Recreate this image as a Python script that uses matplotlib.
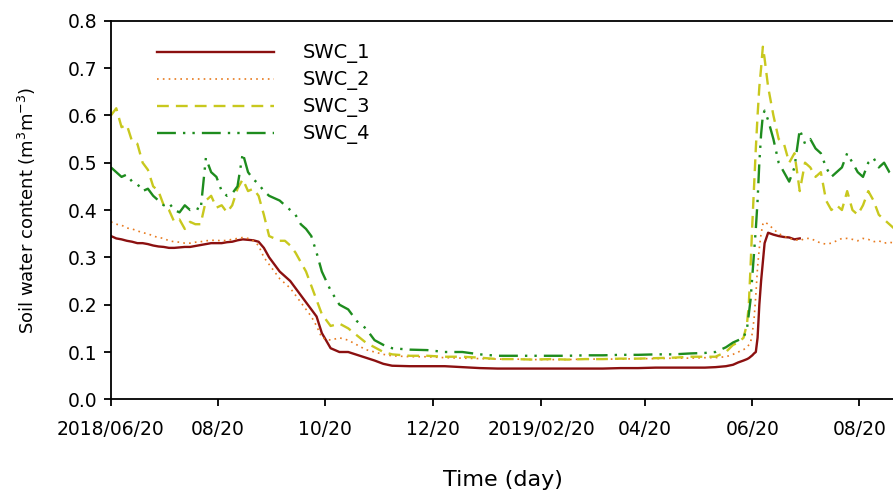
import numpy as np
import matplotlib
matplotlib.use("Agg")
import matplotlib.pyplot as plt
import matplotlib.dates as mdates

plt.rcParams['font.family'] = ['DejaVu Sans']

# days since 2018-06-20
days = [0, 3, 6, 9, 12, 15, 18, 21, 24, 27, 30, 33, 36, 39, 42, 45, 48, 51, 54, 57,
        60, 63, 66, 69, 72, 75, 78, 81, 84, 87, 90, 93, 96, 99, 102, 105, 108, 111, 114, 117, 120,
        125, 130, 135, 140, 145, 150, 155, 160, 170,
        180, 190, 200, 210, 220, 230, 240, 250, 260, 270, 280, 290, 300, 310, 320, 330,
        338, 344, 350, 354, 357, 360, 362, 363, 364, 365, 366, 367, 368, 369, 370, 371, 372,
        374, 377, 380, 383, 386, 389, 392, 395, 398, 401, 404, 407, 410, 413, 416, 419, 422,
        425, 428, 431, 434, 437, 440, 443, 446]

swc_1 = [0.345, 0.34, 0.338, 0.335, 0.333, 0.33, 0.33, 0.328, 0.325, 0.323,
         0.322, 0.32, 0.32, 0.321, 0.322, 0.322, 0.324, 0.326, 0.328, 0.33,
         0.33, 0.33, 0.332, 0.333, 0.336, 0.338, 0.337, 0.336, 0.333, 0.32,
         0.30, 0.285, 0.27, 0.26, 0.25, 0.235, 0.22, 0.205, 0.19, 0.175, 0.14,
         0.108, 0.10, 0.10, 0.094, 0.088, 0.082, 0.075, 0.071, 0.07,
         0.07, 0.07, 0.068, 0.066, 0.065, 0.065, 0.065, 0.065, 0.065, 0.065,
         0.065, 0.066, 0.066, 0.067, 0.067, 0.067,
         0.067, 0.068, 0.07, 0.073, 0.078, 0.082, 0.085, 0.087, 0.09, 0.093,
         0.097, 0.10, 0.13, 0.20, 0.25, 0.29, 0.33,
         0.352, 0.348, 0.345, 0.343, 0.342, 0.338, 0.34] + [np.nan] * 18

swc_2 = [0.375, 0.37, 0.368, 0.362, 0.36, 0.356, 0.352, 0.35, 0.345, 0.342,
         0.34, 0.335, 0.333, 0.332, 0.33, 0.33, 0.332, 0.333, 0.335, 0.336,
         0.336, 0.335, 0.336, 0.338, 0.34, 0.342, 0.34, 0.335, 0.325, 0.30,
         0.285, 0.27, 0.255, 0.245, 0.235, 0.22, 0.205, 0.19, 0.175, 0.155, 0.13,
         0.125, 0.13, 0.125, 0.115, 0.105, 0.10, 0.095, 0.092, 0.09,
         0.09, 0.088, 0.087, 0.086, 0.085, 0.085, 0.084, 0.084, 0.084, 0.085,
         0.085, 0.085, 0.086, 0.086, 0.087, 0.087,
         0.088, 0.088, 0.09, 0.095, 0.10, 0.105, 0.11, 0.115, 0.12, 0.14,
         0.17, 0.22, 0.28, 0.32, 0.35, 0.37, 0.375,
         0.37, 0.36, 0.35, 0.345, 0.34, 0.338, 0.335, 0.34, 0.34, 0.335,
         0.33, 0.328, 0.33, 0.335, 0.34, 0.34, 0.338, 0.335, 0.34, 0.338,
         0.333, 0.335, 0.33, 0.332, 0.33]

swc_3 = [0.60, 0.615, 0.575, 0.58, 0.545, 0.54, 0.50, 0.485, 0.45, 0.44,
         0.41, 0.40, 0.375, 0.38, 0.36, 0.375, 0.37, 0.37, 0.42, 0.43,
         0.405, 0.41, 0.395, 0.41, 0.445, 0.465, 0.44, 0.445, 0.43, 0.39,
         0.345, 0.34, 0.335, 0.335, 0.325, 0.31, 0.29, 0.27, 0.24, 0.21, 0.18,
         0.155, 0.16, 0.15, 0.135, 0.12, 0.11, 0.10, 0.095, 0.092,
         0.092, 0.09, 0.09, 0.088, 0.085, 0.085, 0.084, 0.085, 0.084, 0.085,
         0.085, 0.086, 0.086, 0.087, 0.088, 0.09,
         0.09, 0.09, 0.10, 0.115, 0.12, 0.13, 0.16, 0.20, 0.28, 0.37,
         0.45, 0.53, 0.60, 0.66, 0.70, 0.745, 0.72,
         0.66, 0.60, 0.55, 0.54, 0.50, 0.52, 0.44, 0.50, 0.49, 0.47,
         0.48, 0.42, 0.40, 0.41, 0.40, 0.44, 0.40, 0.39, 0.41, 0.44,
         0.42, 0.39, 0.38, 0.37, 0.36]

swc_4 = [0.49, 0.48, 0.47, 0.475, 0.46, 0.455, 0.44, 0.445, 0.43, 0.42,
         0.41, 0.415, 0.40, 0.395, 0.41, 0.40, 0.405, 0.40, 0.51, 0.48,
         0.47, 0.44, 0.43, 0.435, 0.45, 0.52, 0.48, 0.465, 0.455, 0.44,
         0.43, 0.425, 0.42, 0.41, 0.40, 0.39, 0.37, 0.36, 0.345, 0.31, 0.27,
         0.23, 0.20, 0.19, 0.165, 0.15, 0.125, 0.115, 0.108, 0.105,
         0.104, 0.10, 0.10, 0.095, 0.092, 0.092, 0.092, 0.092, 0.092, 0.093,
         0.093, 0.094, 0.094, 0.095, 0.095, 0.097,
         0.098, 0.10, 0.11, 0.12, 0.125, 0.13, 0.15, 0.18, 0.21, 0.26,
         0.31, 0.36, 0.42, 0.50, 0.56, 0.60, 0.61,
         0.59, 0.55, 0.50, 0.48, 0.46, 0.49, 0.57, 0.54, 0.55, 0.53,
         0.52, 0.49, 0.47, 0.48, 0.49, 0.52, 0.50, 0.48, 0.47, 0.50,
         0.51, 0.49, 0.50, 0.48, 0.47]

labels = ['SWC_1', 'SWC_2', 'SWC_3', 'SWC_4']
tick_dates = ['2018-06-20', '2018-08-20', '2018-10-20', '2018-12-20',
              '2019-02-20', '2019-04-20', '2019-06-20', '2019-08-20']
tick_labels = ['2018/06/20', '08/20', '10/20', '12/20',
               '2019/02/20', '04/20', '06/20', '08/20']

start = np.datetime64('2018-06-20')
t = start + np.array(days).astype('timedelta64[D]')

fig = plt.figure(figsize=(8.93, 4.93), dpi=100)
ax = fig.add_axes([0.1243, 0.190, 0.8785, 0.768])

ax.plot(t, swc_1, color='#8B1010', lw=1.7, ls='-', label=labels[0])
ax.plot(t, swc_2, color='#E87A1E', lw=1.2, ls=(0, (1, 2.5)), label=labels[1])
ax.plot(t, swc_3, color='#C8C81E', lw=1.7, ls=(0, (5, 3)), label=labels[2])
ax.plot(t, swc_4, color='#1E8C1E', lw=1.7, ls=(0, (8, 3, 1, 3, 1, 3)), label=labels[3])

ax.set_xlim(start, start + np.timedelta64(446, 'D') + np.timedelta64(12, 'h'))
ax.set_ylim(0, 0.8)
ax.set_yticks(np.arange(0, 0.81, 0.1))
ax.set_yticklabels([f'{v:.1f}' for v in np.arange(0, 0.81, 0.1)])
ax.set_xticks([mdates.date2num(np.datetime64(d)) for d in tick_dates])
ax.set_xticklabels(tick_labels)

ax.tick_params(direction='out', length=5, width=1.3, labelsize=13.5)
ax.tick_params(axis='x', pad=10)
ax.tick_params(axis='y', pad=5)
for s in ['left', 'bottom', 'top']:
    ax.spines[s].set_linewidth(1.3)
ax.spines['right'].set_visible(False)

ax.set_ylabel('Soil water content (m$^3$m$^{-3}$)', fontsize=13, labelpad=21)
ax.set_xlabel('Time (day)', fontsize=16, labelpad=22)

ax.legend(loc='upper left', bbox_to_anchor=(0.0586, 0.94), frameon=False,
          fontsize=14, handlelength=6.0, handletextpad=1.5, labelspacing=0.36,
          borderpad=0, borderaxespad=0)

fig.savefig('out.png', dpi=100)
